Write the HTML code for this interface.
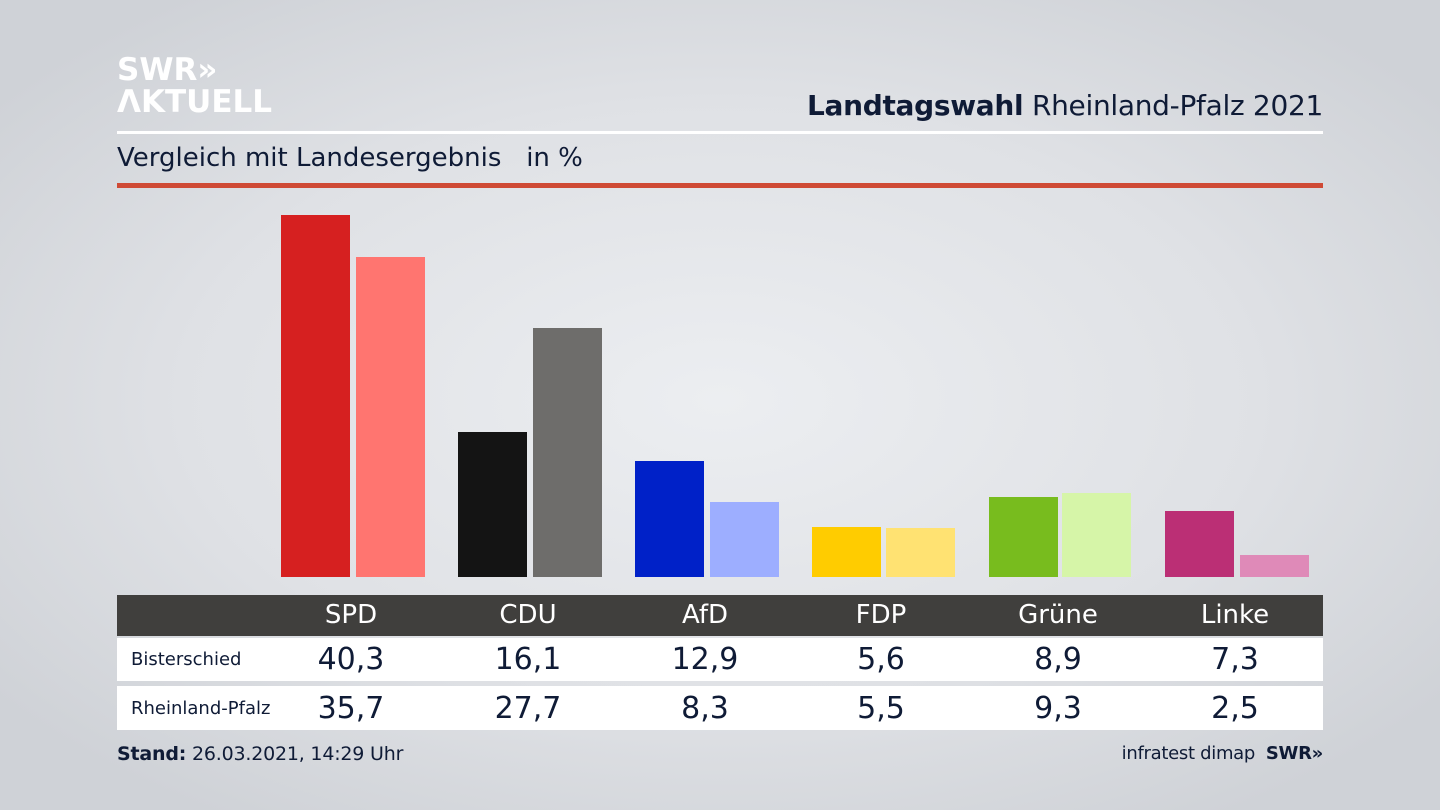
<!DOCTYPE html>
<html><head><meta charset="utf-8"><style>
body{margin:0;width:1440px;height:810px;overflow:hidden;position:relative;font-family:"DejaVu Sans","Liberation Sans",sans-serif;
background:radial-gradient(ellipse 900px 500px at 720px 400px,#eceef1 0%,#dfe1e5 60%,#cfd2d7 100%);}
.a{position:absolute}
.bar{position:absolute;width:69px}
.hd{position:absolute;top:595px;height:41px;width:1206px;left:117px;background:#403f3d}
.row{position:absolute;left:117px;width:1206px;background:#fff}
.c{position:absolute;width:140px;text-align:center;margin-left:-70px}
</style></head><body>
<div class="a" style="left:117px;top:54px;color:#fff;font-weight:bold;font-size:31px;line-height:32px">SWR»<br>ΛKTUELL</div>
<div class="a" style="right:117px;top:89px;font-size:28px;color:#0f1b36;letter-spacing:-0.3px"><b>Landtagswahl</b> Rheinland-Pfalz 2021</div>
<div class="a" style="left:117px;top:131px;width:1206px;height:3px;background:#fff"></div>
<div class="a" style="left:117px;top:143px;font-size:26px;color:#0f1b36">Vergleich mit Landesergebnis&nbsp;&nbsp; in %</div>
<div class="a" style="left:117px;top:183px;width:1206px;height:5px;background:#cf4a35"></div>

<div class="bar" style="left:281px;top:215px;height:362px;background:#d62020"></div>
<div class="bar" style="left:356px;top:257px;height:320px;background:#ff7570"></div>
<div class="bar" style="left:458px;top:432px;height:145px;background:#141414"></div>
<div class="bar" style="left:533px;top:328px;height:249px;background:#6e6d6b"></div>
<div class="bar" style="left:635px;top:461px;height:116px;background:#0021c8"></div>
<div class="bar" style="left:710px;top:502px;height:75px;background:#9daeff"></div>
<div class="bar" style="left:812px;top:527px;height:50px;background:#ffcc00"></div>
<div class="bar" style="left:886px;top:528px;height:49px;background:#ffe272"></div>
<div class="bar" style="left:989px;top:497px;height:80px;background:#78bc1e"></div>
<div class="bar" style="left:1062px;top:493px;height:84px;background:#d6f5a8"></div>
<div class="bar" style="left:1165px;top:511px;height:66px;background:#bb2f75"></div>
<div class="bar" style="left:1240px;top:555px;height:22px;background:#df8ab8"></div>

<div class="hd"></div>
<div class="row" style="top:638px;height:43px"></div>
<div class="row" style="top:686px;height:44px"></div>
<div class="a" style="left:131px;top:649px;font-size:18px;color:#0f1b36">Bisterschied</div>
<div class="a" style="left:131px;top:698px;font-size:18px;color:#0f1b36">Rheinland-Pfalz</div>
<div style="font-size:26px;color:#fff">
<div class="c" style="left:351px;top:600px">SPD</div><div class="c" style="left:528px;top:600px">CDU</div><div class="c" style="left:705px;top:600px">AfD</div><div class="c" style="left:881px;top:600px">FDP</div><div class="c" style="left:1058px;top:600px">Grüne</div><div class="c" style="left:1235px;top:600px">Linke</div>
</div>
<div style="font-size:30px;color:#0f1b36">
<div class="c" style="left:351px;top:642px">40,3</div><div class="c" style="left:528px;top:642px">16,1</div><div class="c" style="left:705px;top:642px">12,9</div><div class="c" style="left:881px;top:642px">5,6</div><div class="c" style="left:1058px;top:642px">8,9</div><div class="c" style="left:1235px;top:642px">7,3</div>
<div class="c" style="left:351px;top:691px">35,7</div><div class="c" style="left:528px;top:691px">27,7</div><div class="c" style="left:705px;top:691px">8,3</div><div class="c" style="left:881px;top:691px">5,5</div><div class="c" style="left:1058px;top:691px">9,3</div><div class="c" style="left:1235px;top:691px">2,5</div>
</div>
<div class="a" style="left:117px;top:743px;font-size:19px;color:#0f1b36;letter-spacing:-0.2px"><b>Stand:</b> 26.03.2021, 14:29 Uhr</div>
<div class="a" style="right:117px;top:743px;font-size:18px;color:#0f1b36;letter-spacing:-0.3px">infratest dimap&nbsp; <b>SWR»</b></div>
</body></html>
